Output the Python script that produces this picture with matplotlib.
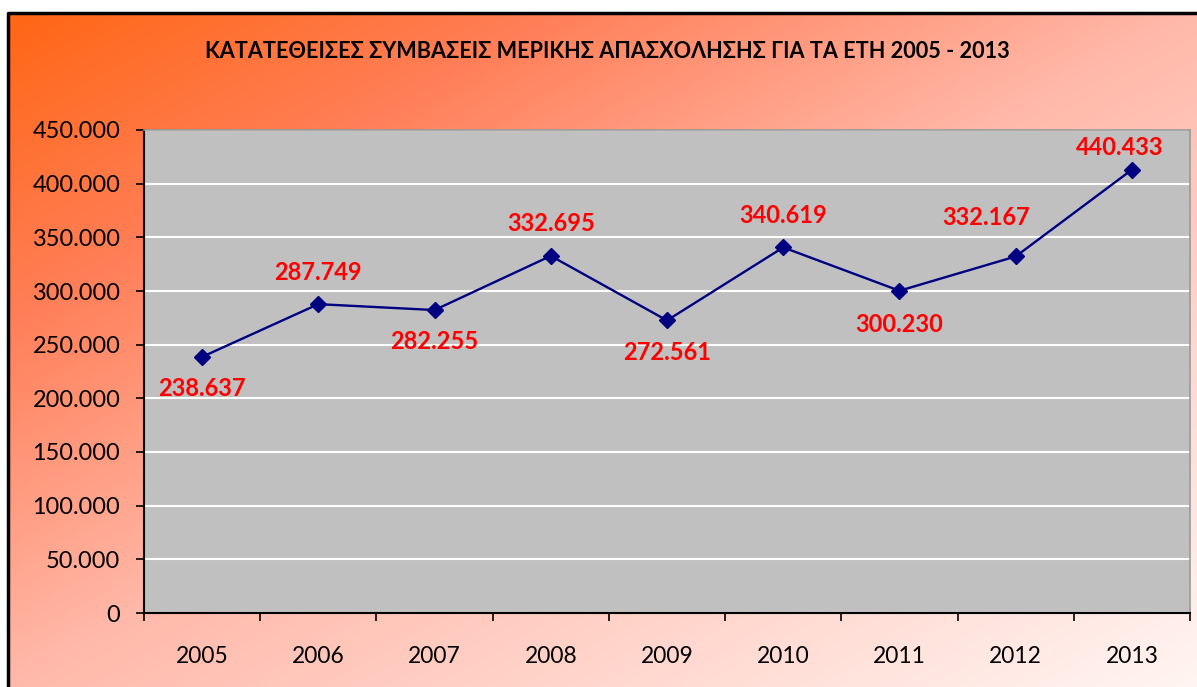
import numpy as np
import matplotlib
matplotlib.use("Agg")
import matplotlib.pyplot as plt
from matplotlib.ticker import FuncFormatter, MultipleLocator

years = ["2005", "2006", "2007", "2008", "2009", "2010", "2011", "2012", "2013"]
values = [238637, 287749, 282255, 332695, 272561, 340619, 300230, 332167, 413000]
labels = ["238.637", "287.749", "282.255", "332.695", "272.561", "340.619", "300.230", "332.167", "440.433"]
title = "ΚΑΤΑΤΕΘΕΙΣΕΣ ΣΥΜΒΑΣΕΙΣ ΜΕΡΙΚΗΣ ΑΠΑΣΧΟΛΗΣΗΣ ΓΙΑ ΤΑ ΕΤΗ 2005 - 2013"

# label offsets in points (dx, dy)
offsets = [(0, -23), (0, 23), (0, -23), (0, 23), (0, -23), (0, 23), (0, -24), (-21, 28), (-9, 16)]

plt.rcParams['font.family'] = ['Lato', 'DejaVu Sans']

W, H = 1197, 687
fig = plt.figure(figsize=(W / 100, H / 100), dpi=100)

# gradient background
bg = fig.add_axes([0, 0, 1, 1], zorder=-10)
bg.set_axis_off()
ny, nx = 240, 400
xx, yy = np.meshgrid(np.linspace(0, 1, nx), np.linspace(0, 1, ny))
t = np.clip((xx + yy) / 2, 0, 1)
stops = [0.0, 0.23, 0.5, 1.0]
cols = np.array([[255, 102, 20], [255, 127, 88], [255, 185, 170], [255, 245, 242]]) / 255.0
img = np.stack([np.interp(t, stops, cols[:, k]) for k in range(3)], axis=-1)
x0f, y1f = 8 / W, 1 - 13 / H
bg.imshow(img, extent=[x0f, 1.0, 0.0, y1f], aspect='auto', origin='upper')
bg.set_xlim(0, 1)
bg.set_ylim(0, 1)
bg.plot([x0f, x0f, 1.01], [-0.01, y1f, y1f], color='black', lw=2.5, solid_capstyle='butt')

# main axes
l, r, tp, b = 144, 1190, 130, 613
ax = fig.add_axes([l / W, 1 - b / H, (r - l) / W, (b - tp) / H])
ax.set_facecolor('#C0C0C0')
x = np.arange(len(years))
ax.plot(x, values, color='#000080', lw=1.7, marker='D', ms=8, zorder=3)
ax.set_xlim(-0.5, len(years) - 0.5)
ax.set_ylim(0, 450000)
ax.yaxis.set_major_locator(MultipleLocator(50000))
ax.yaxis.set_major_formatter(FuncFormatter(lambda v, p: "0" if v == 0 else f"{int(v):,}".replace(",", ".")))
ax.grid(axis='y', color='white', lw=1.5)
ax.set_axisbelow(True)
ax.set_xticks(np.arange(-0.5, len(years), 1.0))
ax.set_xticklabels([])
ax.set_xticks(x, minor=True)
ax.set_xticklabels(years, minor=True, fontsize=16.4)
ax.tick_params(axis='x', which='minor', length=0, pad=24)
ax.tick_params(axis='x', which='major', length=6, direction='out', width=1.2)
ax.tick_params(axis='y', length=6, width=1.2, labelsize=16.9, pad=11)
for s in ['left', 'bottom']:
    ax.spines[s].set_color('black')
    ax.spines[s].set_linewidth(1.5)
for s in ['top', 'right']:
    ax.spines[s].set_color('#9A9A9A')
    ax.spines[s].set_linewidth(1.2)

for xi, v, lab, (dx, dy) in zip(x, values, labels, offsets):
    ax.annotate(lab, (xi, v), xytext=(dx, dy), textcoords='offset points',
                ha='center', va='center', color='#FF0000', fontsize=17, fontweight='bold',
                annotation_clip=False)

fig.text(607 / W, 1 - 52 / H, title, ha='center', va='center',
         fontsize=15.6, fontweight='bold', color='black')

fig.savefig("out.png", dpi=100)
